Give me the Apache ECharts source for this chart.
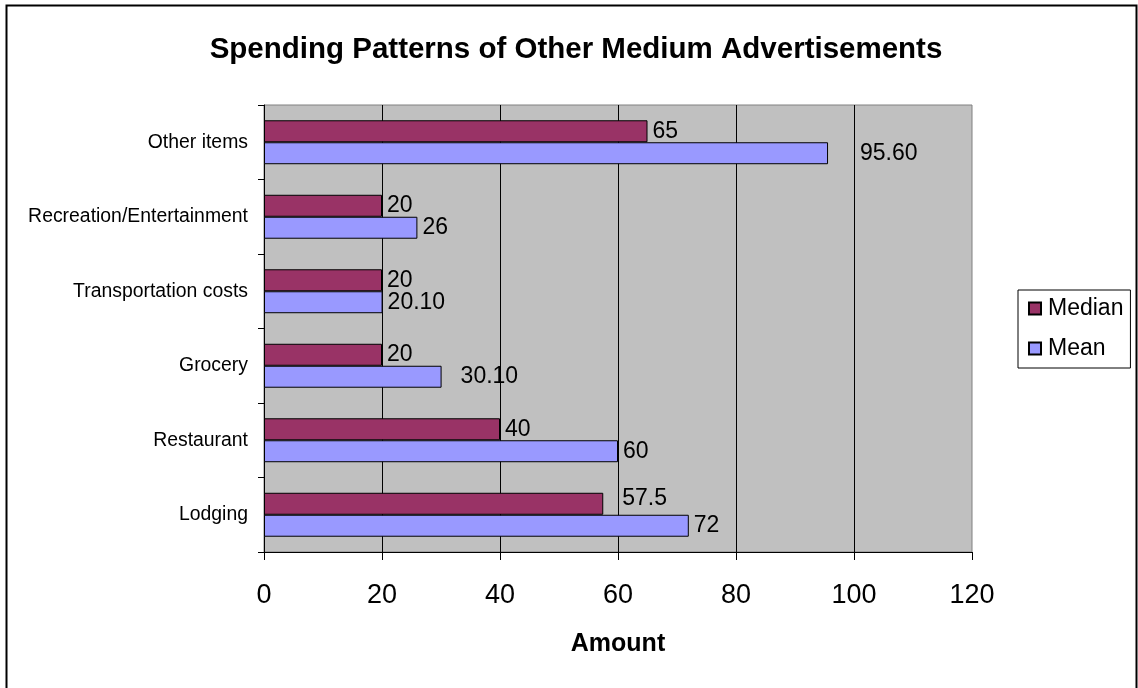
<!DOCTYPE html>
<html>
<head>
<meta charset="utf-8">
<title>Spending Patterns of Other Medium Advertisements</title>
<script src="https://cdn.jsdelivr.net/npm/echarts@6/dist/echarts.min.js"></script>
<style>
  html, body { margin: 0; padding: 0; background: #ffffff; }
  #chart { width: 1138px; height: 688px; }
</style>
</head>
<body>
<div id="chart"></div>
<script>
// Spending categories, listed from the bottom of the axis upward
const categories = ['Lodging', 'Restaurant', 'Grocery', 'Transportation costs', 'Recreation/Entertainment', 'Other items'];

// Amounts per category
const medianValues = [57.5, 40, 20, 20, 20, 65];
const meanValues = [72, 60, 30.10, 20.10, 26, 95.60];

// Printed value labels (kept as text to preserve trailing zeros)
const medianLabels = ['57.5', '40', '20', '20', '20', '65'];
const meanLabels = ['72', '60', '30.10', '20.10', '26', '95.60'];

// Amount axis ticks
const axisMin = 0;
const axisMax = 120;
const axisStep = 20;

// Per-label nudges [dx, dy] for a few labels that sit further from their bars
const medianLabelShift = [[14, -5], [0, 0], [0, 0], [0, 0], [0, 0], [0, 0]];
const meanLabelShift = [[0, 0], [0, 0], [14, 0], [0, 0], [0, 0], [27, 0]];

const FONT = '"Liberation Sans", Arial, sans-serif';

function buildData(values, labels, shifts) {
  return values.map((v, i) => ({
    value: v,
    label: { formatter: labels[i], offset: shifts[i] }
  }));
}

const barLabel = {
  show: true,
  position: 'right',
  distance: 5,
  color: '#000',
  fontFamily: FONT,
  fontSize: 23
};

const chart = echarts.init(document.getElementById('chart'), null, { renderer: 'canvas' });

chart.setOption({
  animation: false,
  backgroundColor: '#ffffff',
  textStyle: { fontFamily: FONT },
  title: {
    text: 'Spending Patterns of Other Medium Advertisements',
    left: 571,
    textAlign: 'center',
    top: 30,
    textStyle: { fontFamily: FONT, fontSize: 29.5, fontWeight: 'bold', color: '#000' }
  },
  legend: {
    data: ['Median', 'Mean'],
    orient: 'vertical',
    left: 1018,
    top: 290,
    padding: [7, 7, 8, 10],
    itemGap: 17,
    itemWidth: 12,
    itemHeight: 12,
    icon: 'rect',
    borderColor: '#000',
    borderWidth: 1,
    backgroundColor: '#fff',
    textStyle: { fontFamily: FONT, fontSize: 23, color: '#000', padding: [0, 0, 0, 2] }
  },
  grid: {
    left: 264,
    right: 166,
    top: 105,
    bottom: 136,
    show: true,
    backgroundColor: '#c0c0c0',
    borderColor: '#808080',
    borderWidth: 1,
    containLabel: false
  },
  xAxis: {
    type: 'value',
    min: axisMin,
    max: axisMax,
    interval: axisStep,
    name: 'Amount',
    nameLocation: 'middle',
    nameGap: 80,
    nameTextStyle: { fontFamily: FONT, fontSize: 25, fontWeight: 'bold', color: '#000' },
    axisLine: { show: true, lineStyle: { color: '#000', width: 1 } },
    axisTick: { show: true, length: 8, lineStyle: { color: '#000' } },
    axisLabel: { margin: 30, fontFamily: FONT, fontSize: 27, color: '#000' },
    splitLine: { show: true, showMinLine: false, showMaxLine: false, lineStyle: { color: '#000', width: 1 } }
  },
  yAxis: {
    type: 'category',
    data: categories,
    axisLine: { show: true, lineStyle: { color: '#000', width: 1 } },
    axisTick: { show: true, length: 6, inside: false, lineStyle: { color: '#000' } },
    axisLabel: { margin: 16, fontFamily: FONT, fontSize: 19.4, color: '#000' },
    splitLine: { show: false }
  },
  series: [
    {
      name: 'Median',
      type: 'bar',
      barGap: '0%',
      barCategoryGap: '41%',
      data: buildData(medianValues, medianLabels, medianLabelShift),
      itemStyle: { color: '#993366', borderColor: '#000', borderWidth: 1 },
      label: barLabel
    },
    {
      name: 'Mean',
      type: 'bar',
      barGap: '0%',
      barCategoryGap: '41%',
      data: buildData(meanValues, meanLabels, meanLabelShift),
      itemStyle: { color: '#9999ff', borderColor: '#000', borderWidth: 1 },
      label: barLabel
    }
  ],
  graphic: [
    {
      type: 'rect',
      shape: { x: 6.5, y: 5.5, width: 1130, height: 690 },
      style: { fill: 'none', stroke: '#000', lineWidth: 2 },
      silent: true,
      z: 100
    }
  ]
});
</script>
</body>
</html>
